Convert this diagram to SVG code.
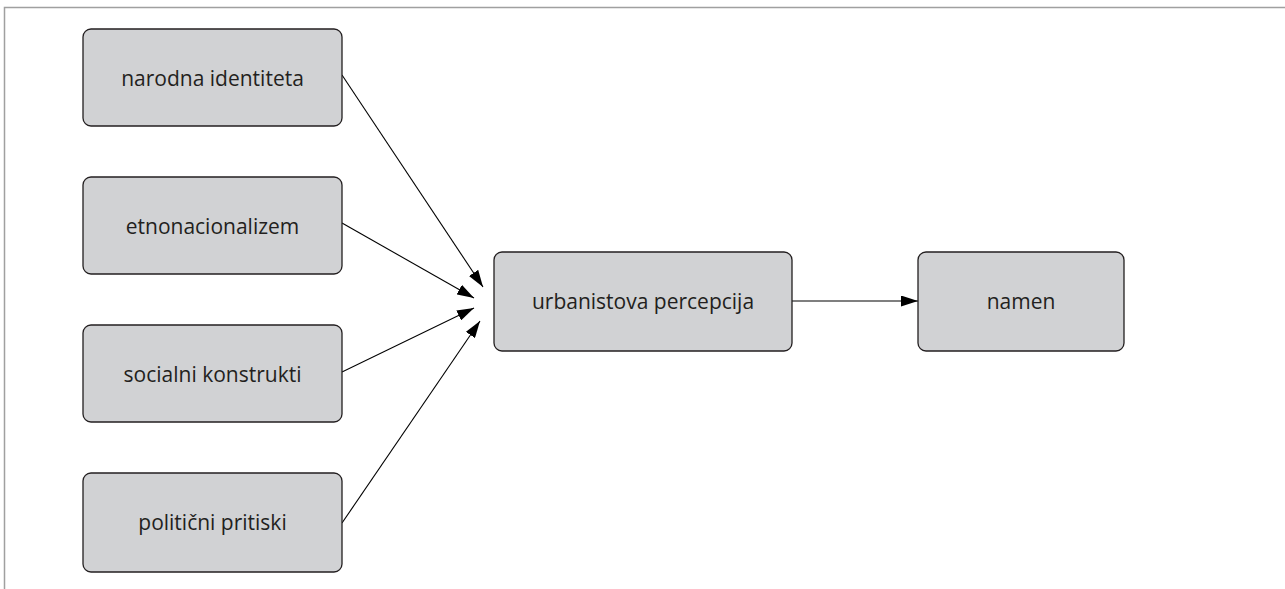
<svg xmlns="http://www.w3.org/2000/svg" width="1285" height="589" viewBox="0 0 1285 589">
<style>
.frame{fill:none;stroke:#a0a0a0;stroke-width:1.5}
.box{fill:#d1d2d4;stroke:#231f20;stroke-width:1.3}
.lbl{font-family:"Open Sans","Noto Sans",sans-serif;font-size:21px;fill:#231f20;text-anchor:middle}
.edge{stroke:#000;stroke-width:1.1;fill:none;marker-end:url(#ah)}
</style>
<defs>
<marker id="ah" viewBox="0 0 17 11" refX="17" refY="5.5" markerWidth="17" markerHeight="11" markerUnits="userSpaceOnUse" orient="auto">
<path d="M0,0 L17,5.5 L0,11 z" fill="#000"/>
</marker>
</defs>
<path class="frame" d="M4.5,589 V7.5 H1285"/>
<g id="connectors">
<line class="edge" x1="342" y1="75" x2="483" y2="287"/>
<line class="edge" x1="342" y1="223" x2="474" y2="298"/>
<line class="edge" x1="342" y1="372" x2="474" y2="308"/>
<line class="edge" x1="342" y1="523" x2="480" y2="321"/>
<line class="edge" x1="792" y1="301" x2="918" y2="301"/>
</g>
<g id="n1"><rect class="box" x="83" y="29" width="259" height="97" rx="8"/><text class="lbl" x="212.5" y="86">narodna identiteta</text></g>
<g id="n2"><rect class="box" x="83" y="177" width="259" height="97" rx="8"/><text class="lbl" x="212.5" y="234">etnonacionalizem</text></g>
<g id="n3"><rect class="box" x="83" y="325" width="259" height="97" rx="8"/><text class="lbl" x="212.5" y="382">socialni konstrukti</text></g>
<g id="n4"><rect class="box" x="83" y="473" width="259" height="99" rx="8"/><text class="lbl" x="212.5" y="530">politični pritiski</text></g>
<g id="n5"><rect class="box" x="494" y="252" width="298" height="99" rx="8"/><text class="lbl" x="643" y="309">urbanistova percepcija</text></g>
<g id="n6"><rect class="box" x="918" y="252" width="206" height="99" rx="8"/><text class="lbl" x="1021" y="309">namen</text></g>
</svg>
